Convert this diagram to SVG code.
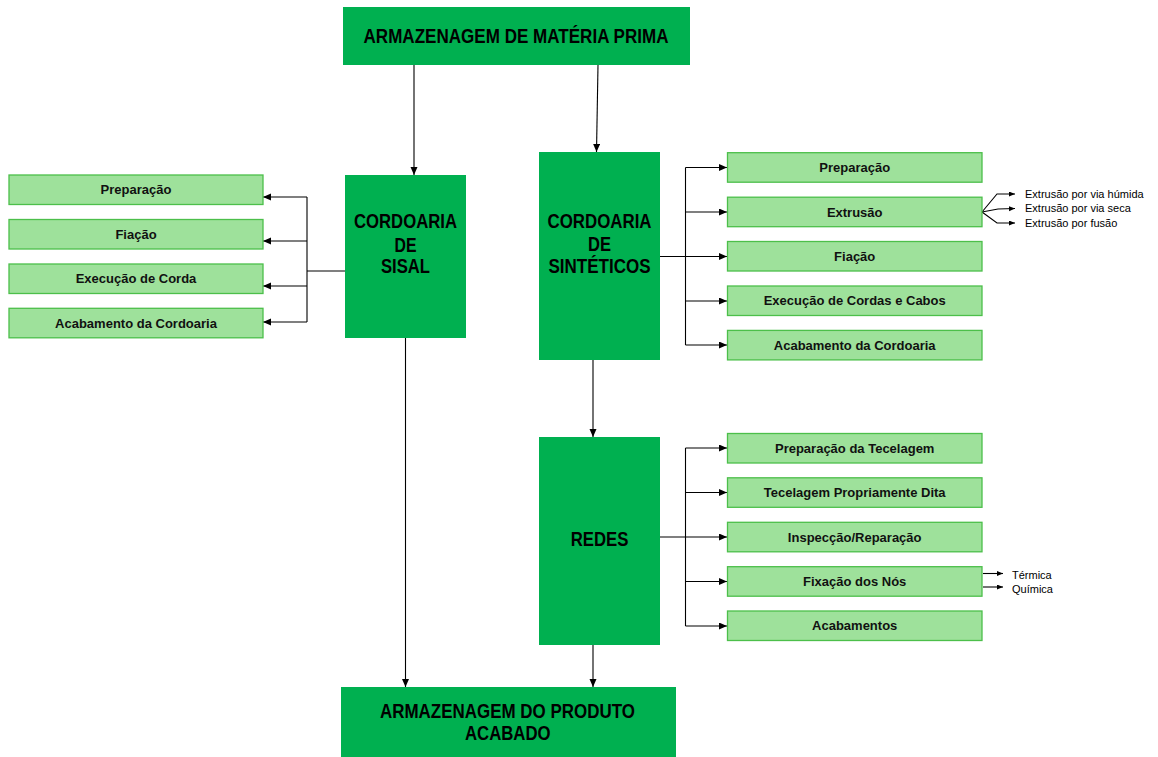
<svg xmlns="http://www.w3.org/2000/svg" width="1158" height="757" viewBox="0 0 1158 757">
<defs>
<marker id="ah" markerUnits="userSpaceOnUse" markerWidth="9" markerHeight="8" refX="8" refY="3.5" orient="auto"><path d="M0,0 L8,3.5 L0,7 z" fill="#000"/></marker>
<marker id="ahs" markerUnits="userSpaceOnUse" markerWidth="7" markerHeight="6" refX="6" refY="2.5" orient="auto"><path d="M0,0 L6,2.5 L0,5 z" fill="#000"/></marker>
</defs>
<style>
.big{fill:#00B050}
.sm{fill:#9EE19B;stroke:#4CBF4A;stroke-width:1.3}
.bt{font-family:"Liberation Sans",Arial,sans-serif;font-weight:bold;font-size:19.5px;fill:#000;text-anchor:middle}
.st{font-family:"Liberation Sans",Arial,sans-serif;font-weight:bold;font-size:13px;fill:#111;text-anchor:middle}
.nt{font-family:"Liberation Sans",Arial,sans-serif;font-size:11px;fill:#000}
.ln{fill:none;stroke:#000;stroke-width:1.1}
</style>
<rect width="1158" height="757" fill="#fff"/>

<g id="connectors">
<line class="ln" x1="414" y1="65" x2="414" y2="175" marker-end="url(#ah)"/>
<line class="ln" x1="598" y1="65" x2="596.5" y2="152" marker-end="url(#ah)"/>
<path class="ln" d="M345,271 H307 M307,197 V322"/>
<line class="ln" x1="307" y1="197" x2="263" y2="197" marker-end="url(#ah)"/>
<line class="ln" x1="307" y1="241" x2="263" y2="241" marker-end="url(#ah)"/>
<line class="ln" x1="307" y1="286" x2="263" y2="286" marker-end="url(#ah)"/>
<line class="ln" x1="307" y1="322" x2="263" y2="322" marker-end="url(#ah)"/>
<path class="ln" d="M685.5,167.5 V345"/>
<line class="ln" x1="685.5" y1="167.5" x2="727" y2="167.5" marker-end="url(#ah)"/>
<line class="ln" x1="685.5" y1="212" x2="727" y2="212" marker-end="url(#ah)"/>
<line class="ln" x1="660" y1="256.5" x2="727" y2="256.5" marker-end="url(#ah)"/>
<line class="ln" x1="685.5" y1="301" x2="727" y2="301" marker-end="url(#ah)"/>
<line class="ln" x1="685.5" y1="345" x2="727" y2="345" marker-end="url(#ah)"/>
<polyline class="ln" points="982,212 997,194 1015,194" marker-end="url(#ahs)"/>
<polyline class="ln" points="982,212 998,209 1015,208.5" marker-end="url(#ahs)"/>
<polyline class="ln" points="982,212 997,223 1015,223" marker-end="url(#ahs)"/>
<line class="ln" x1="593" y1="360" x2="593" y2="437" marker-end="url(#ah)"/>
<path class="ln" d="M685.5,448 V626"/>
<line class="ln" x1="685.5" y1="448" x2="727" y2="448" marker-end="url(#ah)"/>
<line class="ln" x1="685.5" y1="492.5" x2="727" y2="492.5" marker-end="url(#ah)"/>
<line class="ln" x1="660" y1="537" x2="727" y2="537" marker-end="url(#ah)"/>
<line class="ln" x1="685.5" y1="581.5" x2="727" y2="581.5" marker-end="url(#ah)"/>
<line class="ln" x1="685.5" y1="626" x2="727" y2="626" marker-end="url(#ah)"/>
<line class="ln" x1="983" y1="573.5" x2="1003" y2="573.5" marker-end="url(#ahs)"/>
<line class="ln" x1="983" y1="587" x2="1003" y2="587" marker-end="url(#ahs)"/>
<line class="ln" x1="405.5" y1="338" x2="405.5" y2="687" marker-end="url(#ah)"/>
<line class="ln" x1="593" y1="645" x2="593" y2="687" marker-end="url(#ah)"/>
</g>

<g id="n-materia-prima"><rect class="big" x="343" y="7" width="347" height="58"/><text class="bt" x="516" y="42.7" textLength="305" lengthAdjust="spacingAndGlyphs">ARMAZENAGEM DE MATÉRIA PRIMA</text></g>

<g id="n-sisal"><rect class="big" x="345" y="175" width="121" height="163"/>
<text class="bt" x="405.5" y="228.3" textLength="103" lengthAdjust="spacingAndGlyphs">CORDOARIA</text>
<text class="bt" x="405.5" y="251.6" textLength="22" lengthAdjust="spacingAndGlyphs">DE</text>
<text class="bt" x="405.5" y="273.3" textLength="49" lengthAdjust="spacingAndGlyphs">SISAL</text></g>

<g id="n-sis-prep"><rect class="sm" x="9" y="175" width="254" height="29.5"/><text class="st" x="136" y="194.3">Preparação</text></g>
<g id="n-sis-fia"><rect class="sm" x="9" y="219.5" width="254" height="29.5"/><text class="st" x="136" y="238.8">Fiação</text></g>
<g id="n-sis-exec"><rect class="sm" x="9" y="264" width="254" height="29.5"/><text class="st" x="136" y="283.3">Execução de Corda</text></g>
<g id="n-sis-acab"><rect class="sm" x="9" y="308.3" width="254" height="29.5"/><text class="st" x="136" y="327.6">Acabamento da Cordoaria</text></g>

<g id="n-sinteticos"><rect class="big" x="539" y="152" width="121" height="208"/>
<text class="bt" x="599.5" y="227.7" textLength="104" lengthAdjust="spacingAndGlyphs">CORDOARIA</text>
<text class="bt" x="599.5" y="251" textLength="23" lengthAdjust="spacingAndGlyphs">DE</text>
<text class="bt" x="599.5" y="273.3" textLength="102" lengthAdjust="spacingAndGlyphs">SINTÉTICOS</text></g>

<g id="n-sin-prep"><rect class="sm" x="727.5" y="152.7" width="254.5" height="29.5"/><text class="st" x="854.7" y="172">Preparação</text></g>
<g id="n-sin-extr"><rect class="sm" x="727.5" y="197.2" width="254.5" height="29.5"/><text class="st" x="854.7" y="216.5">Extrusão</text></g>
<g id="n-sin-fia"><rect class="sm" x="727.5" y="241.5" width="254.5" height="29.5"/><text class="st" x="854.7" y="260.8">Fiação</text></g>
<g id="n-sin-exec"><rect class="sm" x="727.5" y="286" width="254.5" height="29.5"/><text class="st" x="854.7" y="305.3">Execução de Cordas e Cabos</text></g>
<g id="n-sin-acab"><rect class="sm" x="727.5" y="330.4" width="254.5" height="29.5"/><text class="st" x="854.7" y="349.7">Acabamento da Cordoaria</text></g>

<g id="n-extr-sub">
<text class="nt" x="1025" y="197.8">Extrusão por via húmida</text>
<text class="nt" x="1025" y="212.2">Extrusão por via seca</text>
<text class="nt" x="1025" y="226.8">Extrusão por fusão</text>
</g>

<g id="n-redes"><rect class="big" x="539" y="437" width="121" height="208"/><text class="bt" x="599.5" y="545.7" textLength="57.7" lengthAdjust="spacingAndGlyphs">REDES</text></g>

<g id="n-red-prep"><rect class="sm" x="727.5" y="433.5" width="254.5" height="29.5"/><text class="st" x="854.7" y="452.8">Preparação da Tecelagem</text></g>
<g id="n-red-tec"><rect class="sm" x="727.5" y="477.8" width="254.5" height="29.5"/><text class="st" x="854.7" y="497.1">Tecelagem Propriamente Dita</text></g>
<g id="n-red-insp"><rect class="sm" x="727.5" y="522.3" width="254.5" height="29.5"/><text class="st" x="854.7" y="541.6">Inspecção/Reparação</text></g>
<g id="n-red-fix"><rect class="sm" x="727.5" y="566.7" width="254.5" height="29.5"/><text class="st" x="854.7" y="586">Fixação dos Nós</text></g>
<g id="n-red-acab"><rect class="sm" x="727.5" y="611" width="254.5" height="29.5"/><text class="st" x="854.7" y="630.3">Acabamentos</text></g>

<g id="n-fix-sub">
<text class="nt" x="1012" y="578.5">Térmica</text>
<text class="nt" x="1012" y="592.5">Química</text>
</g>

<g id="n-produto-acabado"><rect class="big" x="341" y="687" width="335" height="70"/>
<text class="bt" x="507.5" y="718.3" textLength="255" lengthAdjust="spacingAndGlyphs">ARMAZENAGEM DO PRODUTO</text>
<text class="bt" x="507.8" y="740" textLength="85.7" lengthAdjust="spacingAndGlyphs">ACABADO</text></g>
</svg>
